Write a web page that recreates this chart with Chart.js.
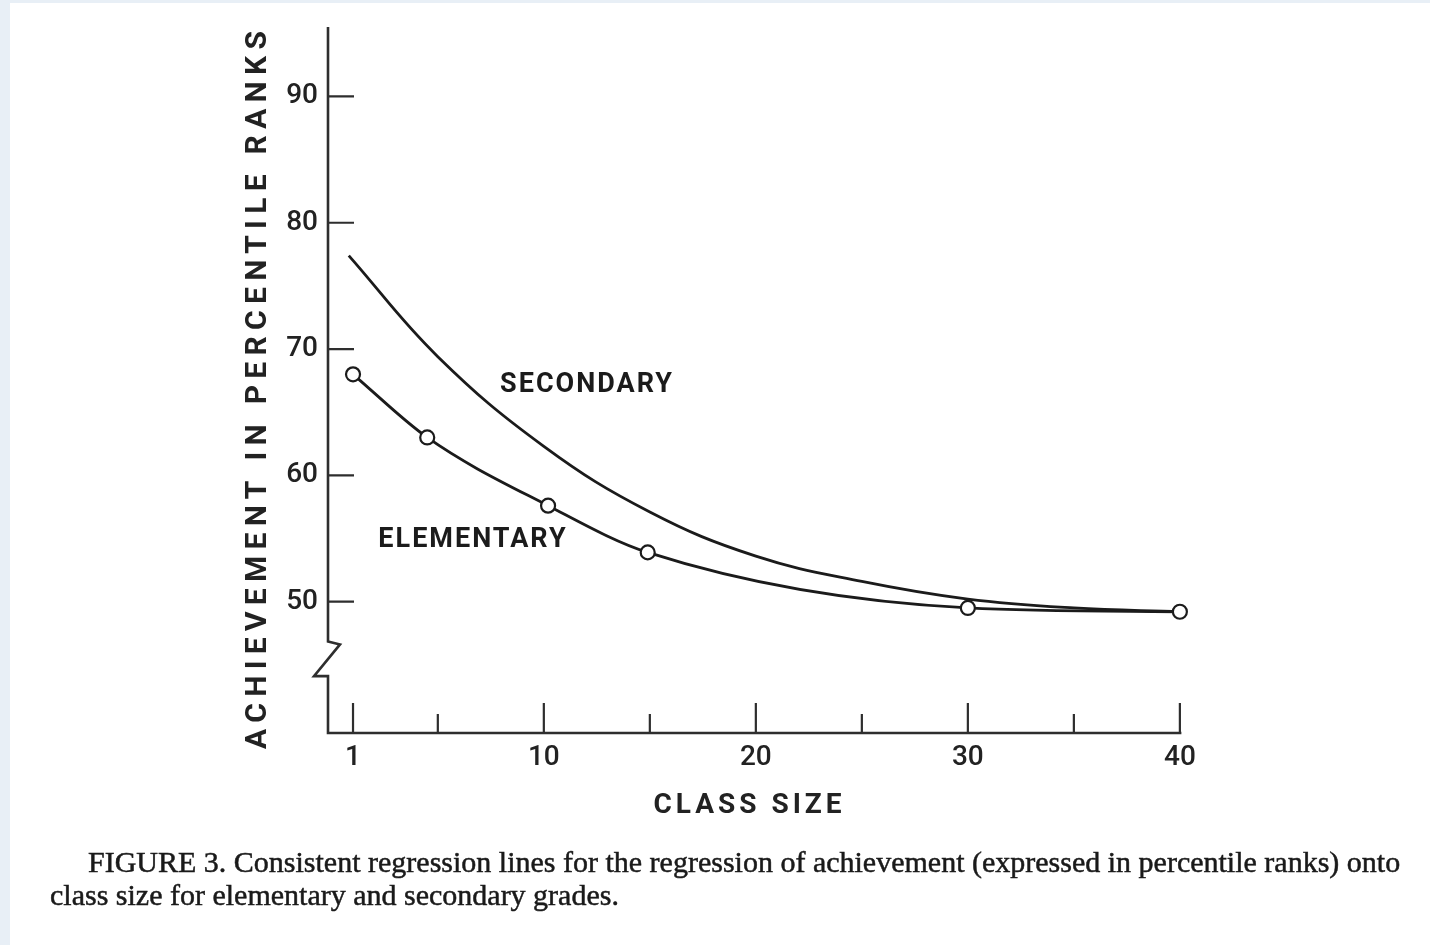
<!DOCTYPE html>
<html>
<head>
<meta charset="utf-8">
<title>Achievement and class size</title>
<script src="https://cdn.jsdelivr.net/npm/chart.js@4.4.1/dist/chart.umd.min.js"></script>
<style>
  html, body { margin: 0; padding: 0; }
  body { width: 1430px; height: 945px; background: #e8eff6; position: relative; overflow: hidden; }
  #sheet { position: absolute; left: 10px; top: 3px; right: 0; bottom: 0; background: #ffffff; }
  #wrap { position: absolute; left: 0; top: 0; width: 1430px; height: 945px; }
  .cap {
    position: absolute;
    font-family: 'Liberation Serif', 'Times New Roman', serif;
    font-size: 30px;
    line-height: 32px;
    white-space: nowrap;
    color: #1a1a1a;
    -webkit-text-stroke: 0.5px #1a1a1a;
  }
  #cap1 { left: 88px; top: 846px; }
  #cap2 { left: 50px; top: 879px; }
</style>
</head>
<body>
<div id="sheet"></div>
<div id="wrap"><canvas id="chart" width="1430" height="945"></canvas></div>
<div class="cap" id="cap1">FIGURE 3. Consistent regression lines for the regression of achievement (expressed in percentile ranks) onto</div>
<div class="cap" id="cap2">class size for elementary and secondary grades.</div>

<script>
// Axis ticks
const classSizeTicks = [1, 5, 10, 15, 20, 25, 30, 35, 40];
const classSizeLabels = [1, 10, 20, 30, 40];
const rankTicks = [50, 60, 70, 80, 90];

// Elementary grades: fitted points (open circles) joined by a smooth curve
const elementaryX = [1, 4.5, 10.2, 14.9, 30, 40];
const elementaryY = [68.0, 63.0, 57.6, 53.9, 49.5, 49.2];

// Secondary grades: smooth regression curve, no markers
const secondaryX = [0.8, 5, 10, 15, 20, 25, 30, 35, 40];
const secondaryY = [77.4, 69.4, 62.3, 57.1, 53.6, 51.6, 50.2, 49.5, 49.2];

const seriesNames = ['ELEMENTARY', 'SECONDARY'];

const INK = '#1b1b1b';
const AXIS_INK = '#2e2e2e';

const toPoints = (xs, ys) => xs.map((x, i) => ({ x, y: ys[i] }));

// Wider letter spacing for the axis titles (lettered style)
const titleSpacing = { x: '4px', y: '6.3px' };
const spacedTitles = {
  id: 'spacedTitles',
  beforeDraw(chart) {
    for (const id of ['x', 'y']) {
      const sc = chart.scales[id];
      if (!sc || sc._spacedTitle) continue;
      const original = sc.drawTitle;
      sc.drawTitle = function () {
        const c = this.ctx;
        c.save();
        c.letterSpacing = titleSpacing[id];
        original.apply(this, arguments);
        c.restore();
      };
      sc._spacedTitle = true;
    }
  }
};

// Axis lines with the broken y axis, inward tick marks
const axesPlugin = {
  id: 'axesPlugin',
  beforeDatasetsDraw(chart) {
    const { ctx, chartArea: a, scales: { x, y } } = chart;
    const ax = a.left;
    const breakTop = y.getPixelForValue(46.85);
    const breakBottom = y.getPixelForValue(44.1);
    ctx.save();
    ctx.strokeStyle = AXIS_INK;
    ctx.lineWidth = 2.6;
    ctx.lineJoin = 'miter';
    ctx.lineCap = 'butt';
    ctx.beginPath();
    ctx.moveTo(ax, a.top);
    ctx.lineTo(ax, breakTop);
    ctx.lineTo(ax + 12, breakTop + 3);
    ctx.lineTo(ax - 14, breakBottom);
    ctx.lineTo(ax, breakBottom);
    ctx.lineTo(ax, a.bottom);
    ctx.lineTo(x.getPixelForValue(40) + 1.5, a.bottom);
    ctx.stroke();

    ctx.lineWidth = 2.2;
    ctx.beginPath();
    rankTicks.forEach(v => {
      const py = y.getPixelForValue(v);
      ctx.moveTo(ax, py);
      ctx.lineTo(ax + 26, py);
    });
    classSizeTicks.forEach(v => {
      const px = x.getPixelForValue(v);
      const len = classSizeLabels.includes(v) ? 30 : 19;
      ctx.moveTo(px, a.bottom);
      ctx.lineTo(px, a.bottom - len);
    });
    ctx.stroke();
    ctx.restore();
  }
};

// Curve names written beside the lines
const nameAnchors = { ELEMENTARY: [6.66, 54.9], SECONDARY: [12.04, 67.1] };
const curveNames = {
  id: 'curveNames',
  afterDatasetsDraw(chart) {
    const { ctx, scales: { x, y } } = chart;
    ctx.save();
    ctx.fillStyle = INK;
    ctx.font = 'bold 27px Roboto, "DejaVu Sans", sans-serif';
    ctx.letterSpacing = '2px';
    ctx.textAlign = 'center';
    ctx.textBaseline = 'middle';
    seriesNames.forEach(name => {
      const [vx, vy] = nameAnchors[name];
      ctx.fillText(name, x.getPixelForValue(vx), y.getPixelForValue(vy));
    });
    ctx.restore();
  }
};

const tickFont = { family: 'Roboto, "DejaVu Sans", sans-serif', size: 28, weight: '500' };

new Chart(document.getElementById('chart'), {
  type: 'line',
  data: {
    datasets: [
      {
        label: seriesNames[0],
        data: toPoints(elementaryX, elementaryY),
        borderColor: INK,
        borderWidth: 2.8,
        cubicInterpolationMode: 'monotone',
        pointRadius: 7,
        pointBorderWidth: 2.2,
        pointBorderColor: INK,
        pointBackgroundColor: '#ffffff',
        clip: false
      },
      {
        label: seriesNames[1],
        data: toPoints(secondaryX, secondaryY),
        borderColor: INK,
        borderWidth: 2.8,
        tension: 0.4,
        pointRadius: 0,
        clip: false
      }
    ]
  },
  options: {
    responsive: false,
    animation: false,
    events: [],
    layout: { padding: { left: 240, top: 27, right: 248, bottom: 112 } },
    plugins: { legend: { display: false }, tooltip: { enabled: false } },
    scales: {
      x: {
        type: 'linear',
        min: -0.18,
        max: 40.1,
        grid: { display: false, drawTicks: false },
        border: { display: false },
        afterBuildTicks: s => { s.ticks = classSizeTicks.map(v => ({ value: v })); },
        afterFit: s => { s.height = 100; },
        ticks: {
          autoSkip: false,
          maxRotation: 0,
          padding: 8,
          color: '#222',
          font: tickFont,
          callback: v => (classSizeLabels.includes(v) ? String(v) : '')
        },
        title: {
          display: true,
          text: 'CLASS SIZE ',
          color: '#222',
          font: { family: 'Roboto, "DejaVu Sans", sans-serif', size: 28, weight: 'bold' },
          padding: { top: 0, bottom: 10 }
        }
      },
      y: {
        type: 'linear',
        min: 39.6,
        max: 95.5,
        grid: { display: false, drawTicks: false },
        border: { display: false },
        afterBuildTicks: s => { s.ticks = rankTicks.map(v => ({ value: v })); },
        afterFit: s => { s.width = 88; },
        ticks: {
          padding: 10,
          color: '#222',
          font: tickFont
        },
        title: {
          display: true,
          text: 'ACHIEVEMENT IN PERCENTILE RANKS ',
          color: '#222',
          font: { family: 'Roboto, "DejaVu Sans", sans-serif', size: 30, weight: 'bold' },
          padding: { top: 0, bottom: 0 }
        }
      }
    }
  },
  plugins: [spacedTitles, axesPlugin, curveNames]
});
</script>
</body>
</html>
